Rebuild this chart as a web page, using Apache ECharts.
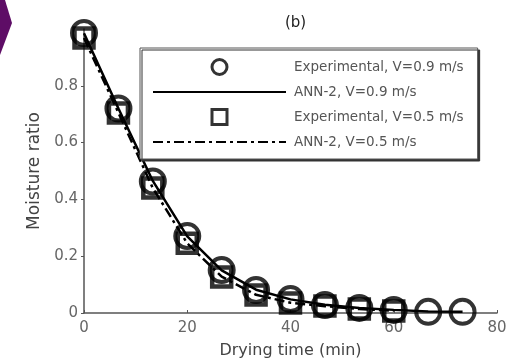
<!DOCTYPE html>
<html>
<head>
<meta charset="utf-8">
<script src="https://cdn.jsdelivr.net/npm/echarts@6/dist/echarts.min.js"></script>
<style>
  html, body { margin: 0; padding: 0; background: #fff; }
  #chart { width: 526px; height: 364px; }
</style>
</head>
<body>
<div id="chart"></div>
<script>
// drying time (min)
const time = [0, 6.67, 13.33, 20, 26.67, 33.33, 40, 46.67, 53.33, 60, 66.67, 73.33];
// measured moisture ratio
const expFast = [0.986, 0.72, 0.463, 0.271, 0.151, 0.081, 0.049, 0.028, 0.018, 0.011, 0.004, 0.004];
const expSlow = [0.968, 0.704, 0.44, 0.246, 0.127, 0.063, 0.035, 0.025, 0.014, 0.007];
// ANN-2 predictions
const annFast = [0.985, 0.72, 0.465, 0.27, 0.15, 0.082, 0.048, 0.029, 0.018, 0.011, 0.005, 0.004];
const annSlow = [0.968, 0.705, 0.44, 0.245, 0.128, 0.064, 0.036, 0.024, 0.014, 0.008];
const xTicks = [0, 20, 40, 60, 80];
const yTicks = [0, 0.2, 0.4, 0.6, 0.8];

const names = ['Experimental, V=0.9 m/s', 'ANN-2, V=0.9 m/s', 'Experimental, V=0.5 m/s', 'ANN-2, V=0.5 m/s'];

function pairs(xs, ys) {
  return ys.map((v, i) => [xs[i], v]);
}

const font = 'DejaVu Sans';
const chart = echarts.init(document.getElementById('chart'));

// line rows in the legend: no marker, only the line
const noMarker = { color: 'rgba(0,0,0,0)', borderColor: 'rgba(0,0,0,0)', borderWidth: 0 };

chart.setOption({
  animation: false,
  textStyle: { fontFamily: font },
  grid: { left: 84, right: 29, top: 29, bottom: 51 },
  title: {
    text: '(b)',
    left: 280,
    top: 11,
    textStyle: { fontFamily: font, fontSize: 15, fontWeight: 'normal', color: '#222' }
  },
  graphic: [{
    type: 'polygon',
    shape: { points: [[0, 0], [5, 0], [12, 23], [0, 55]] },
    style: { fill: '#5e0d66' }
  }],
  legend: {
    data: [
      { name: names[0] },
      { name: names[1], itemStyle: noMarker },
      { name: names[2], icon: 'path://M0,0L10,0L10,10L0,10Z' },
      { name: names[3], itemStyle: noMarker }
    ],
    orient: 'vertical',
    left: 140,
    top: 48,
    padding: [10, 14, 10, 12],
    itemWidth: 133,
    itemHeight: 15,
    itemGap: 9,
    symbolKeepAspect: true,
    backgroundColor: '#fff',
    borderColor: '#555',
    borderWidth: 1,
    shadowColor: '#333',
    shadowOffsetX: 2,
    shadowOffsetY: 2,
    shadowBlur: 0,
    itemStyle: { borderWidth: 3 },
    textStyle: { fontFamily: font, fontSize: 13.5, color: '#555', padding: [0, 0, 0, 3] }
  },
  xAxis: {
    type: 'value',
    min: xTicks[0],
    max: xTicks[xTicks.length - 1],
    interval: 20,
    name: 'Drying time (min)',
    nameLocation: 'middle',
    nameGap: 30,
    nameTextStyle: { fontFamily: font, fontSize: 16, color: '#444' },
    axisLine: { lineStyle: { color: '#555', width: 1.5 } },
    axisTick: { show: true, inside: true, length: 3, lineStyle: { color: '#555' } },
    axisLabel: { fontFamily: font, fontSize: 15, color: '#666', margin: 8 },
    splitLine: { show: false }
  },
  yAxis: {
    type: 'value',
    min: 0,
    max: 1,
    interval: 0.2,
    name: 'Moisture ratio',
    nameLocation: 'middle',
    nameGap: 40,
    nameTextStyle: { fontFamily: font, fontSize: 17, color: '#444' },
    axisLine: { show: true, lineStyle: { color: '#555', width: 1.5 } },
    axisTick: { show: true, length: 3, lineStyle: { color: '#555' } },
    axisLabel: {
      fontFamily: font, fontSize: 15, color: '#666', margin: 6,
      showMaxLabel: false,
      formatter: v => yTicks.indexOf(Math.round(v * 10) / 10) >= 0 ? String(Math.round(v * 10) / 10) : ''
    },
    splitLine: { show: false }
  },
  series: [
    {
      name: names[0],
      type: 'scatter',
      symbol: 'circle',
      symbolSize: 24,
      itemStyle: { color: 'rgba(0,0,0,0)', borderColor: '#000', borderWidth: 4 },
      data: pairs(time, expFast)
    },
    {
      name: names[2],
      type: 'scatter',
      symbol: 'rect',
      symbolSize: 19,
      itemStyle: { color: 'rgba(0,0,0,0)', borderColor: '#000', borderWidth: 4.5 },
      data: pairs(time, expSlow)
    },
    {
      name: names[1],
      type: 'line',
      symbol: 'none',
      lineStyle: { color: '#000', width: 2.5 },
      itemStyle: { color: '#000' },
      data: pairs(time, annFast)
    },
    {
      name: names[3],
      type: 'line',
      symbol: 'none',
      lineStyle: { color: '#000', width: 2.5, type: [10, 4, 3, 4] },
      itemStyle: { color: '#000' },
      data: pairs(time, annSlow)
    }
  ]
});
</script>
</body>
</html>
